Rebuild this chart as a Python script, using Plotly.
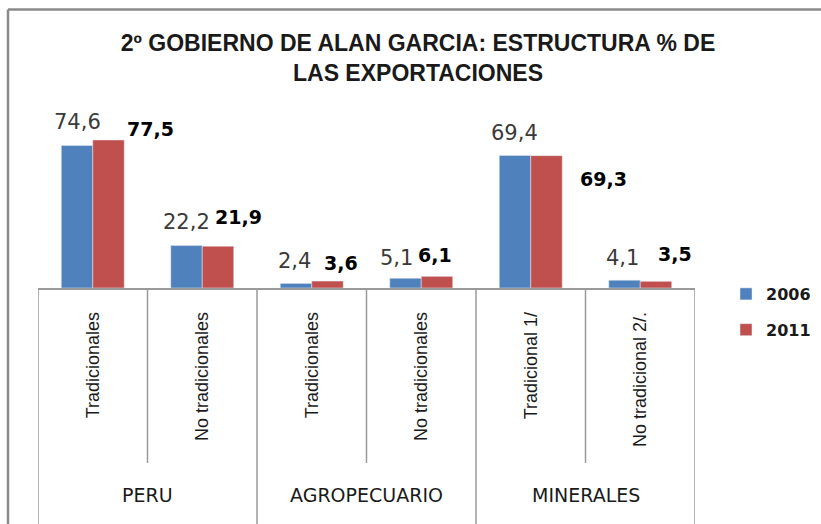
import plotly.graph_objects as go

# ---------------- data ----------------
groups = ["PERU", "AGROPECUARIO", "MINERALES"]
group_sizes = [2, 2, 2]
subcats = ["Tradicionales", "No tradicionales",
           "Tradicionales", "No tradicionales",
           "Tradicional 1/", "No tradicional 2/."]
years = ["2006", "2011"]
v2006 = [74.6, 22.2, 2.4, 5.1, 69.4, 4.1]
v2011 = [77.5, 21.9, 3.6, 6.1, 69.3, 3.5]

# label offsets in pixels (dx, dy) relative to bar top centre (styling only)
off2006 = [(0.5, -24), (0, -24), (-1.5, -22), (-9.5, -20), (-1, -22), (-2.5, -22)]
off2011 = [(42, -11), (21, -29), (14, -18), (-1.5, -21), (57, 23), (19, -27)]

BLUE = "#4F81BD"
RED = "#C0504D"
GRID = "#9a9a9a"
TXT = "#1a1a1a"

W, H = 821, 524
ML, MR, MT, MB = 38, 126, 97, 236
PW, PH = W - ML - MR, H - MT - MB

bargap = 0.425
bw = (1 - bargap) / 2

xs = list(range(len(subcats)))

def fmt(v):
    return f"{v:.1f}".replace(".", ",")

fig = go.Figure()
fig.add_trace(go.Bar(x=xs, y=v2006, name=years[0], marker_color=BLUE,
                     legendgroup="a", hoverinfo="skip"))
fig.add_trace(go.Bar(x=xs, y=v2011, name=years[1], marker_color=RED,
                     legendgroup="b", hoverinfo="skip"))

annotations = []
for i, v in enumerate(v2006):
    dx, dy = off2006[i]
    annotations.append(dict(x=i - bw / 2, y=v, xref="x", yref="y", text=fmt(v),
                            showarrow=False, xanchor="center", yanchor="middle",
                            xshift=dx, yshift=-dy,
                            font=dict(family="DejaVu Sans", size=21, color="#3a3a3a")))
for i, v in enumerate(v2011):
    dx, dy = off2011[i]
    annotations.append(dict(x=i + bw / 2, y=v, xref="x", yref="y", text="<b>" + fmt(v) + "</b>",
                            showarrow=False, xanchor="center", yanchor="middle",
                            xshift=dx, yshift=-dy,
                            font=dict(family="DejaVu Sans", size=19, color="#000000")))

# group labels and separators
shapes = []
start = 0
major = [-0.5]
minor = []
for g, n in zip(groups, group_sizes):
    centre = start + (n - 1) / 2
    annotations.append(dict(x=centre, y=(MT + PH - 495) / PH, xref="x", yref="paper",
                            text=g, showarrow=False, xanchor="center", yanchor="middle",
                            font=dict(family="DejaVu Sans", size=19, color=TXT)))
    for k in range(1, n):
        minor.append(start + k - 0.5)
    start += n
    major.append(start - 0.5)

for xb in major:
    shapes.append(dict(type="line", xref="x", yref="paper", x0=xb, x1=xb,
                       y0=0, y1=(MT + PH - 526) / PH, line=dict(color=GRID, width=1.5)))
for xb in minor:
    shapes.append(dict(type="line", xref="x", yref="paper", x0=xb, x1=xb,
                       y0=0, y1=(MT + PH - 463) / PH, line=dict(color=GRID, width=1.5)))

# outer frame (left and top)
fx = (8 - ML) / PW
fy = (MT + PH - 9.5) / PH
shapes.append(dict(type="line", xref="paper", yref="paper", x0=fx, x1=fx,
                   y0=fy, y1=(MT + PH - 530) / PH, line=dict(color="#8a8a8a", width=2.5)))
shapes.append(dict(type="line", xref="paper", yref="paper", x0=fx, x1=(W + 5 - ML) / PW,
                   y0=fy, y1=fy, line=dict(color="#8a8a8a", width=2.5)))

fig.update_layout(
    width=W, height=H,
    margin=dict(l=ML, r=MR, t=MT, b=MB, pad=0, autoexpand=False),
    paper_bgcolor="white", plot_bgcolor="white",
    barmode="group", bargap=bargap, bargroupgap=0,
    title=dict(text="2º GOBIERNO DE ALAN GARCIA: ESTRUCTURA % DE<br>LAS EXPORTACIONES",
               x=418 / W, xref="container", xanchor="center",
               y=1 - 51 / H, yref="container", yanchor="middle",
               font=dict(family="Liberation Sans", size=23, color=TXT, weight="bold")),
    xaxis=dict(range=[-0.5, len(subcats) - 0.5], tickmode="array", tickvals=xs,
               ticktext=subcats, tickangle=-90, showgrid=False, zeroline=False,
               showline=True, linecolor=GRID, linewidth=1.5,
               ticks="outside", ticklen=15, tickcolor="rgba(0,0,0,0)",
               tickfont=dict(family="Liberation Sans", size=18, color=TXT),
               fixedrange=True, automargin=False),
    yaxis=dict(range=[0, 100], visible=False, fixedrange=True),
    legend=dict(x=(726 - ML) / PW, y=(MT + PH - 277) / PH, xanchor="left", yanchor="top",
                traceorder="grouped", tracegroupgap=12,
                font=dict(family="DejaVu Sans", size=16, color=TXT, weight="bold"),
                bgcolor="rgba(0,0,0,0)"),
    annotations=annotations,
    shapes=shapes,
    showlegend=True,
)

fig.write_html("out.html", config={"displayModeBar": False},
               post_script="document.body.style.margin='0';document.body.style.overflow='hidden';")
